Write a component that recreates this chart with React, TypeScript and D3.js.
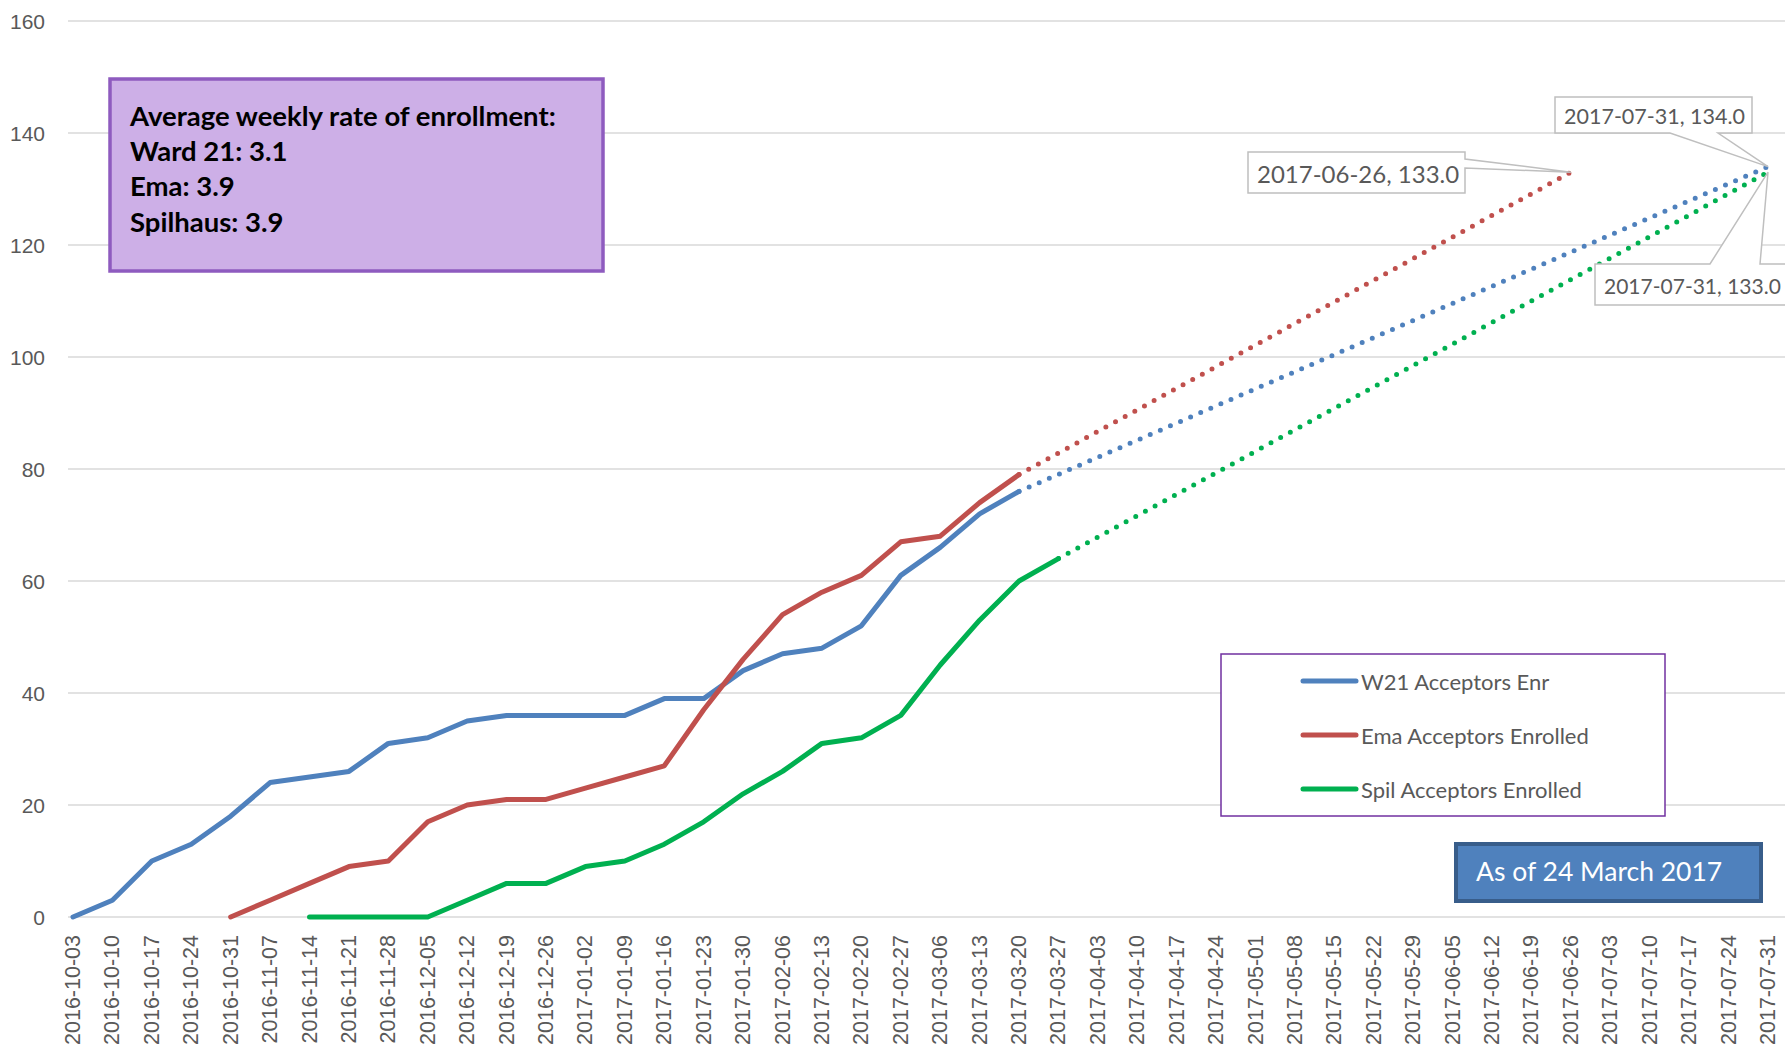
import React from "react";
import { scaleLinear, scalePoint, line } from "d3";

// weekly categories shown on the x axis
const weeks = [
  "2016-10-03", "2016-10-10", "2016-10-17", "2016-10-24", "2016-10-31",
  "2016-11-07", "2016-11-14", "2016-11-21", "2016-11-28", "2016-12-05",
  "2016-12-12", "2016-12-19", "2016-12-26", "2017-01-02", "2017-01-09",
  "2017-01-16", "2017-01-23", "2017-01-30", "2017-02-06", "2017-02-13",
  "2017-02-20", "2017-02-27", "2017-03-06", "2017-03-13", "2017-03-20",
  "2017-03-27", "2017-04-03", "2017-04-10", "2017-04-17", "2017-04-24",
  "2017-05-01", "2017-05-08", "2017-05-15", "2017-05-22", "2017-05-29",
  "2017-06-05", "2017-06-12", "2017-06-19", "2017-06-26", "2017-07-03",
  "2017-07-10", "2017-07-17", "2017-07-24", "2017-07-31",
];

const yTicks = [0, 20, 40, 60, 80, 100, 120, 140, 160];

// actual enrolment, starting at the given week
const w21From = "2016-10-03";
const w21Values = [0, 3, 10, 13, 18, 24, 25, 26, 31, 32, 35, 36, 36, 36, 36, 39, 39, 44, 47, 48, 52, 61, 66, 72, 76];
const emaFrom = "2016-10-31";
const emaValues = [0, 3, 6, 9, 10, 17, 20, 21, 21, 23, 25, 27, 37, 46, 54, 58, 61, 67, 68, 74, 79];
const spilFrom = "2016-11-14";
const spilValues = [0, 0, 0, 0, 3, 6, 6, 9, 10, 13, 17, 22, 26, 31, 32, 36, 45, 53, 60, 64];

// projected trend (start, end)
const w21Proj: [string, number][] = [["2017-03-20", 76], ["2017-07-31", 134]];
const emaProj: [string, number][] = [["2017-03-20", 79], ["2017-06-26", 133]];
const spilProj: [string, number][] = [["2017-03-27", 64], ["2017-07-31", 133]];

const legendNames = ["W21 Acceptors Enr", "Ema Acceptors Enrolled", "Spil Acceptors Enrolled"];
const rateLines = ["Average weekly rate of enrollment:", "Ward 21: 3.1", "Ema: 3.9", "Spilhaus: 3.9"];

const colors = ["#4F81BD", "#C0504D", "#00B050"];

const width = 1785;
const height = 1049;

function toPoints(from: string, values: number[]): [string, number][] {
  const start = weeks.indexOf(from);
  return values.map((v, i) => [weeks[start + i], v]);
}

export default function App() {
  const x = scalePoint<string>().domain(weeks).range([73, 1768]);
  const y = scaleLinear().domain([0, 160]).range([917, 21]);

  const path = line<[string, number]>()
    .x((d) => x(d[0]) as number)
    .y((d) => y(d[1]));

  const actual = [
    toPoints(w21From, w21Values),
    toPoints(emaFrom, emaValues),
    toPoints(spilFrom, spilValues),
  ];
  const proj = [w21Proj, emaProj, spilProj];

  const labelFont = "'Liberation Sans', Arial, sans-serif";
  const textFont = "Lato, 'Open Sans', sans-serif";

  // callout anchors
  const redEnd = [x(emaProj[1][0]) as number, y(emaProj[1][1])];
  const blueEnd = [x(w21Proj[1][0]) as number, y(w21Proj[1][1])];
  const greenEnd = [x(spilProj[1][0]) as number, y(spilProj[1][1])];

  return (
    <svg
      width={width}
      height={height}
      style={{ position: "absolute", left: 0, top: 0, background: "#fff" }}
    >
      {/* grid */}
      {yTicks.map((t) => (
        <g key={t}>
          <line x1={68} x2={width} y1={y(t)} y2={y(t)} stroke="#D9D9D9" strokeWidth={1.5} />
          <text
            x={45}
            y={y(t)}
            textAnchor="end"
            dominantBaseline="central"
            fontFamily={labelFont}
            fontSize={21}
            fill="#595959"
          >
            {t}
          </text>
        </g>
      ))}

      {/* x labels */}
      {weeks.map((w) => (
        <text
          key={w}
          transform={`translate(${x(w)}, 935) rotate(-90)`}
          textAnchor="end"
          dominantBaseline="central"
          fontFamily={labelFont}
          fontSize={21.5}
          fill="#595959"
        >
          {w}
        </text>
      ))}

      {/* projections */}
      {proj.map((p, i) => (
        <path
          key={"p" + i}
          d={path(p) as string}
          fill="none"
          stroke={colors[i]}
          strokeWidth={5}
          strokeLinecap="round"
          strokeDasharray="0 11"
        />
      ))}

      {/* actual */}
      {actual.map((p, i) => (
        <path
          key={"a" + i}
          d={path(p) as string}
          fill="none"
          stroke={colors[i]}
          strokeWidth={5}
          strokeLinecap="round"
          strokeLinejoin="round"
        />
      ))}

      {/* callouts */}
      <g fill="#fff" stroke="#BFBFBF" strokeWidth={1.5}>
        <path d={`M1248,152 H1465 V159 L${redEnd[0]},${redEnd[1]} L1465,168 V193 H1248 Z`} />
        <path d={`M1555,97 H1752 V133 H1718 L${blueEnd[0]},${blueEnd[1]} L1670,133 H1555 Z`} />
        <path d={`M1595,264 H1710 L${greenEnd[0]},${greenEnd[1]} L1760,264 H1800 V305 H1595 Z`} />
      </g>
      <g fontFamily={textFont} fill="#595959">
        <text x={1257} y={173} fontSize={24} dominantBaseline="central">
          {`${emaProj[1][0]}, ${emaProj[1][1].toFixed(1)}`}
        </text>
        <text x={1564} y={116} fontSize={21.5} dominantBaseline="central">
          {`${w21Proj[1][0]}, ${w21Proj[1][1].toFixed(1)}`}
        </text>
        <text x={1604} y={285} fontSize={21} dominantBaseline="central">
          {`${spilProj[1][0]}, ${spilProj[1][1].toFixed(1)}`}
        </text>
      </g>

      {/* rate box */}
      <rect x={110} y={79} width={493} height={192} fill="#CDAFE7" stroke="#8E5BBF" strokeWidth={3.5} />
      {rateLines.map((t, i) => (
        <text
          key={t}
          x={130}
          y={126 + i * 35.2}
          fontFamily={textFont}
          fontWeight="bold"
          fontSize={27.5}
          fill="#000"
        >
          {t}
        </text>
      ))}

      {/* legend */}
      <rect x={1221} y={654} width={444} height={162} fill="#fff" stroke="#7030A0" strokeWidth={1.5} />
      {legendNames.map((n, i) => (
        <g key={n} transform={`translate(0, ${681 + i * 54})`}>
          <line x1={1303} x2={1356} y1={0} y2={0} stroke={colors[i]} strokeWidth={5} strokeLinecap="round" />
          <text x={1361} y={0} dominantBaseline="central" fontFamily={textFont} fontSize={22} fill="#595959">
            {n}
          </text>
        </g>
      ))}

      {/* as-of box */}
      <rect x={1456} y={844} width={305} height={57} fill="#4F81BD" stroke="#385D8A" strokeWidth={4} />
      <text x={1476} y={871} dominantBaseline="central" fontFamily={textFont} fontSize={26.5} fill="#fff">
        As of 24 March 2017
      </text>
    </svg>
  );
}
